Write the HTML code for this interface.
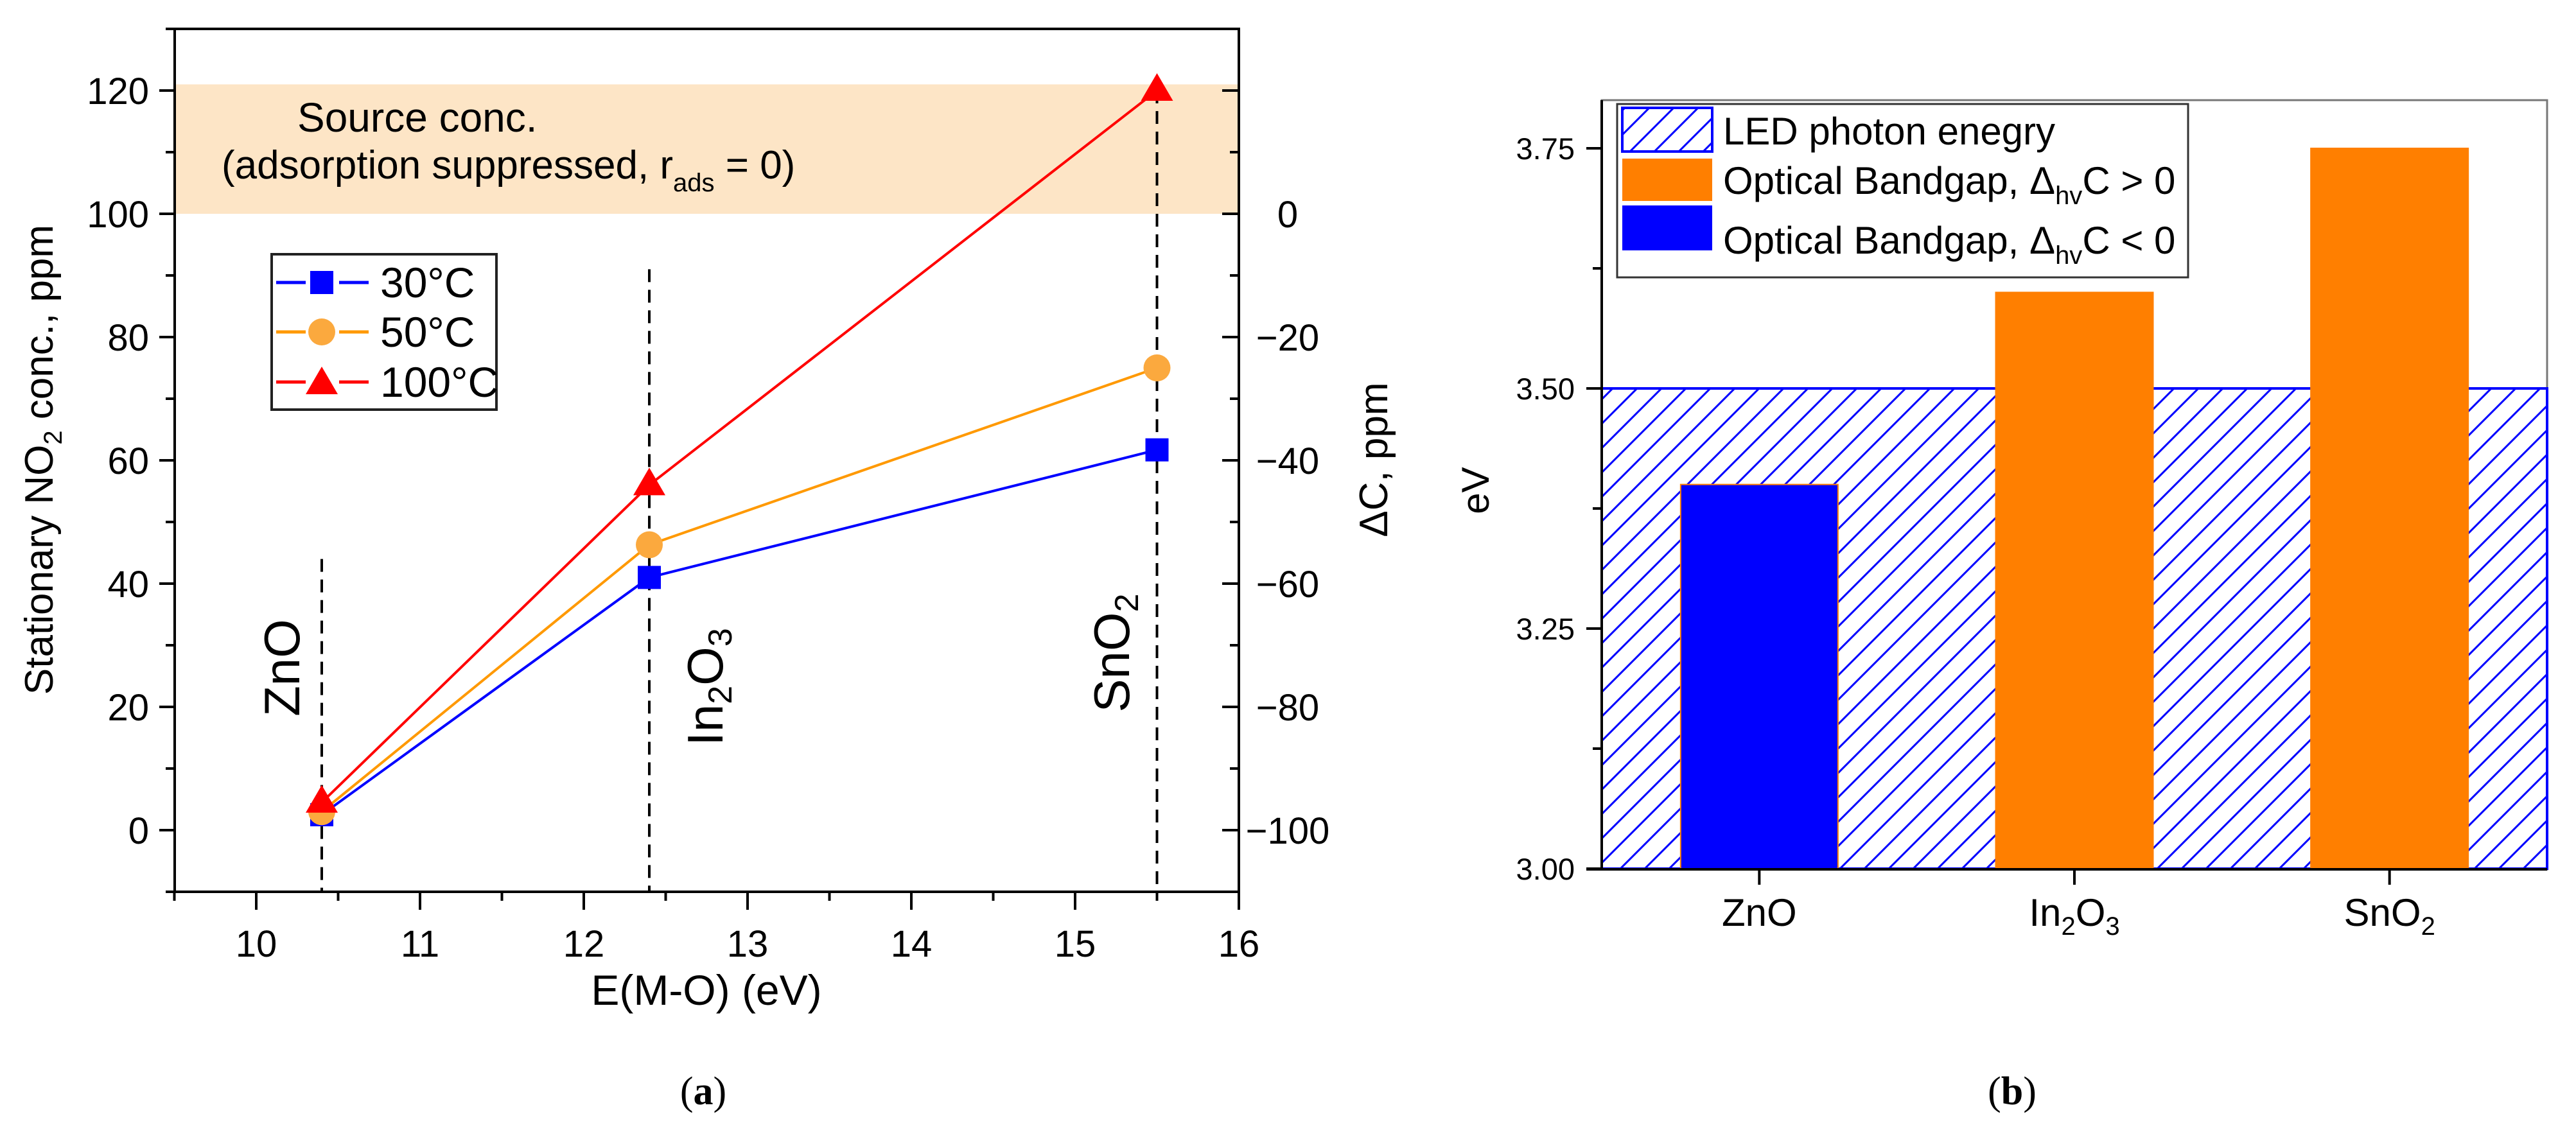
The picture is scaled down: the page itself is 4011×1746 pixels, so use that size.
<!DOCTYPE html>
<html><head><meta charset="utf-8"><style>
html,body{margin:0;padding:0;background:#fff}
svg{display:block}
text{font-family:"Liberation Sans",Arial,sans-serif;fill:#000}
</style></head><body>
<svg id="fig" width="4011" height="1746" viewBox="0 0 4011 1746" xmlns="http://www.w3.org/2000/svg">
<defs>
<pattern id="hatch" patternUnits="userSpaceOnUse" width="38" height="38" patternTransform="rotate(0)">
<line x1="0" y1="38" x2="38" y2="0" stroke="#0000FF" stroke-width="3"/>
<line x1="-19" y1="19" x2="19" y2="-19" stroke="#0000FF" stroke-width="3"/>
<line x1="19" y1="57" x2="57" y2="19" stroke="#0000FF" stroke-width="3"/>
</pattern>
</defs>
<g id="panelA"></g>
<g id="panelB"></g>
<text x="1095" y="1720" font-size="62" text-anchor="middle" style="font-family:'Liberation Serif',serif">(<tspan font-weight="bold">a</tspan>)</text>
<text x="3133" y="1720" font-size="62" text-anchor="middle" style="font-family:'Liberation Serif',serif">(<tspan font-weight="bold">b</tspan>)</text>
</svg>
<script>
// ---------- Panel A data ----------
const energies = [10.4, 12.4, 15.5];
const materials = ["ZnO", "In2O3", "SnO2"];
const series30 = [2.5, 41.0, 61.7];
const series50 = [3.0, 46.3, 75.0];
const series100 = [4.5, 56.0, 120.0];
const seriesNames = ["30°C", "50°C", "100°C"];
const xTicksA = [10, 11, 12, 13, 14, 15, 16];
const yTicksA = [0, 20, 40, 60, 80, 100, 120];
const yTicksRight = [0, -20, -40, -60, -80, -100];
const dashTops = [44, 91, 120];
const bandRange = [100, 121];
// ---------- Panel B data ----------
const bCategories = ["ZnO", "In2O3", "SnO2"];
const bandgaps = [3.40, 3.60, 3.75];
const ledEnergy = [3.50];
const yTicksB = [3.00, 3.25, 3.50, 3.75];

const NS = "http://www.w3.org/2000/svg";
function mk(parent, tag, attrs) {
  const e = document.createElementNS(NS, tag);
  for (const k in attrs) e.setAttribute(k, attrs[k]);
  parent.appendChild(e);
  return e;
}
// axis functions A
const XA = v => 399 + (v - 10) * 255;
const YA = v => 1293 - v * 9.6;
const A = document.getElementById("panelA");
const axL = 272, axR = 1929, axT = 45, axB = 1389;

// band
let band = mk(A, "rect", {x: axL, y: YA(bandRange[1]), width: axR - axL, height: YA(bandRange[0]) - YA(bandRange[1]), fill: "#FDE5C6"});


let t1 = mk(A, "text", {x: 463, y: 205, "font-size": 64});
t1.textContent = "Source conc.";


let t2 = mk(A, "text", {x: 345, y: 278, "font-size": 62});
t2.innerHTML = '(adsorption suppressed, r<tspan font-size="40" dy="20">ads</tspan><tspan dy="-20"> = 0)</tspan>';



// dashed lines
energies.forEach((e, i) => {
  let d = mk(A, "line", {x1: XA(e), x2: XA(e), y1: YA(dashTops[i]), y2: axB, stroke: "#000", "stroke-width": 4, "stroke-dasharray": "20 12"});
  
  
});

// frame
let frame = mk(A, "rect", {x: axL, y: axT, width: axR - axL, height: axB - axT, fill: "none", stroke: "#000", "stroke-width": 4});



// left ticks
for (let v = -10; v <= 130; v += 10) {
  const major = v % 20 === 0;
  let tk = mk(A, "line", {x1: axL - (major ? 24 : 14), x2: axL, y1: YA(v), y2: YA(v), stroke: "#000", "stroke-width": 4});
  
  
  let tk2 = mk(A, "line", {x1: axR - (major ? 26 : 14), x2: axR, y1: YA(v), y2: YA(v), stroke: "#000", "stroke-width": 4});
  
  
}
yTicksA.forEach(v => {
  let l = mk(A, "text", {x: 232, y: YA(v) + 21, "font-size": 58, "text-anchor": "end"});
  l.textContent = v;
  
  
});
yTicksRight.forEach(v => {
  let l = mk(A, "text", {x: 2005, y: YA(v + 100) + 21, "font-size": 58, "text-anchor": "middle"});
  l.textContent = v === 0 ? "0" : "\u2212" + Math.abs(v);
  
  
});
// x ticks
for (let v = 9.5; v <= 16.001; v += 0.5) {
  const major = Math.abs(v - Math.round(v)) < 0.01;
  let tk = mk(A, "line", {x1: XA(v), x2: XA(v), y1: axB, y2: axB + (major ? 28 : 14), stroke: "#000", "stroke-width": 4});
  
  
}
xTicksA.forEach(v => {
  let l = mk(A, "text", {x: XA(v), y: 1490, "font-size": 58, "text-anchor": "middle"});
  l.textContent = v;
  
  
});
// titles
let yt = mk(A, "text", {x: 0, y: 0, "font-size": 62, "text-anchor": "middle", transform: "translate(82,716) rotate(-90)"});
yt.innerHTML = 'Stationary NO<tspan font-size="40" dy="14">2</tspan><tspan dy="-14"> conc., ppm</tspan>';


let y2t = mk(A, "text", {x: 0, y: 0, "font-size": 62, "text-anchor": "middle", transform: "translate(2160,716) rotate(-90)"});
y2t.textContent = "\u0394C, ppm";


let xt = mk(A, "text", {x: 1100, y: 1565, "font-size": 66, "text-anchor": "middle"});
xt.textContent = "E(M-O) (eV)";



// material labels (rotated)
const matLabelPos = [[466, 1040], [1125, 1070], [1758, 1017]];
const matHtml = ['ZnO', 'In<tspan font-size="52" dy="14">2</tspan><tspan dy="-14">O</tspan><tspan font-size="52" dy="14">3</tspan>', 'SnO<tspan font-size="52" dy="14">2</tspan>'];
materials.forEach((m, i) => {
  let l = mk(A, "text", {x: 0, y: 0, "font-size": 78, "text-anchor": "middle", transform: `translate(${matLabelPos[i][0]},${matLabelPos[i][1]}) rotate(-90)`});
  l.innerHTML = matHtml[i];
  
  
});

// series
const allSeries = [series30, series50, series100];
const lineColors = ["#0000FF", "#FF9900", "#FF0000"];
const markColors = ["#0000FF", "#FBA93E", "#FF0000"];
function marker(g, type, cx, cy, color) {
  let m;
  if (type === 0) m = mk(g, "rect", {x: cx - 18, y: cy - 18, width: 36, height: 36, fill: color});
  else if (type === 1) m = mk(g, "circle", {cx: cx, cy: cy, r: 21, fill: color});
  else m = mk(g, "polygon", {points: `${cx},${cy - 27} ${cx - 25},${cy + 16} ${cx + 25},${cy + 16}`, fill: color});
  return m;
}
allSeries.forEach((s, si) => {
  let g = mk(A, "g", {});
  
  
  let pts = s.map((v, i) => XA(energies[i]) + "," + YA(v)).join(" ");
  let pl = mk(g, "polyline", {points: pts, fill: "none", stroke: lineColors[si], "stroke-width": 4});
  
  
  s.forEach((v, i) => {
    let m = marker(g, si, XA(energies[i]), YA(v), markColors[si]);
    
    
  });
});

// legend A
let lg = mk(A, "g", {});


let lbox = mk(lg, "rect", {x: 423, y: 396, width: 350, height: 242, fill: "#fff", stroke: "#222", "stroke-width": 4});


const legY = [440, 517, 595];
seriesNames.forEach((n, i) => {
  let e = mk(lg, "g", {});
  
  
  mk(e, "line", {x1: 430, x2: 476, y1: legY[i], y2: legY[i], stroke: lineColors[i], "stroke-width": 5});
  mk(e, "line", {x1: 528, x2: 574, y1: legY[i], y2: legY[i], stroke: lineColors[i], "stroke-width": 5});
  marker(e, i, 501, legY[i] + (i === 2 ? 3 : 0), markColors[i]);
  let t = mk(e, "text", {x: 592, y: legY[i] + 23, "font-size": 66});
  t.textContent = n;
});

// ---------- Panel B ----------
const B = document.getElementById("panelB");
const bL = 2494, bR = 3966, bT = 156, bB = 1354;
const YB = v => 1353 - (v - 3) * 1496;
const XB = i => bL + (i + 0.5) * (bR - bL) / bCategories.length;
const barW = 245;

let frameB = mk(B, "rect", {x: bL, y: bT, width: bR - bL, height: bB - bT, fill: "none", stroke: "#777", "stroke-width": 3});


let led = mk(B, "rect", {x: bL, y: YB(ledEnergy[0]), width: bR - bL, height: YB(3) - YB(ledEnergy[0]), fill: "url(#hatch)", stroke: "#0000FF", "stroke-width": 4});


bandgaps.forEach((v, i) => {
  const col = v < ledEnergy[0] ? "#0000FF" : "#FF7F00";
  let r = mk(B, "rect", {x: XB(i) - barW / 2, y: YB(v), width: barW, height: YB(3) - YB(v), fill: col, stroke: "#FF7F00", "stroke-width": 2});
  
  
});
// axes B
let axLb = mk(B, "line", {x1: bL, x2: bL, y1: bT, y2: bB, stroke: "#000", "stroke-width": 4});


let axBb = mk(B, "line", {x1: bL - 24, x2: bR, y1: bB, y2: bB, stroke: "#000", "stroke-width": 4});


for (let v = 3.0; v <= 3.751; v += 0.125) {
  const major = Math.abs((v * 4) - Math.round(v * 4)) < 0.01;
  let tk = mk(B, "line", {x1: bL - (major ? 24 : 14), x2: bL, y1: YB(v), y2: YB(v), stroke: "#000", "stroke-width": 4});
  
  
}
yTicksB.forEach(v => {
  let l = mk(B, "text", {x: 2452, y: YB(v) + 17, "font-size": 47, "text-anchor": "end"});
  l.textContent = v.toFixed(2);
  
  
});
const catHtml = ['ZnO', 'In<tspan font-size="40" dy="14">2</tspan><tspan dy="-14">O</tspan><tspan font-size="40" dy="14">3</tspan>', 'SnO<tspan font-size="40" dy="14">2</tspan>'];
bCategories.forEach((c, i) => {
  let tk = mk(B, "line", {x1: XB(i), x2: XB(i), y1: bB, y2: bB + 24, stroke: "#000", "stroke-width": 4});
  
  
  let l = mk(B, "text", {x: XB(i), y: 1442, "font-size": 60, "text-anchor": "middle"});
  l.innerHTML = catHtml[i];
  
  
});
let evt = mk(B, "text", {x: 0, y: 0, "font-size": 60, "text-anchor": "middle", transform: "translate(2318,764) rotate(-90)"});
evt.textContent = "eV";



// legend B
let lgB = mk(B, "g", {});


let lbB = mk(lgB, "rect", {x: 2518, y: 162, width: 889, height: 270, fill: "#fff", stroke: "#333", "stroke-width": 3});


const legBEntries = [
  {y: 168, h: 68, fill: "url(#hatch)", stroke: "#0000FF", html: "LED photon enegry", base: 225},
  {y: 247, h: 66, fill: "#FF7F00", stroke: "none", html: 'Optical Bandgap, \u0394<tspan font-size="40" dy="16">hv</tspan><tspan dy="-16">C &gt; 0</tspan>', base: 302},
  {y: 320, h: 70, fill: "#0000FF", stroke: "none", html: 'Optical Bandgap, \u0394<tspan font-size="40" dy="16">hv</tspan><tspan dy="-16">C &lt; 0</tspan>', base: 395}
];
legBEntries.forEach(en => {
  let e = mk(lgB, "g", {});
  
  
  mk(e, "rect", {x: 2526, y: en.y, width: 140, height: en.h, fill: en.fill, stroke: en.stroke, "stroke-width": 4});
  let t = mk(e, "text", {x: 2683, y: en.base, "font-size": 60});
  t.innerHTML = en.html;
});
</script>
</body></html>
